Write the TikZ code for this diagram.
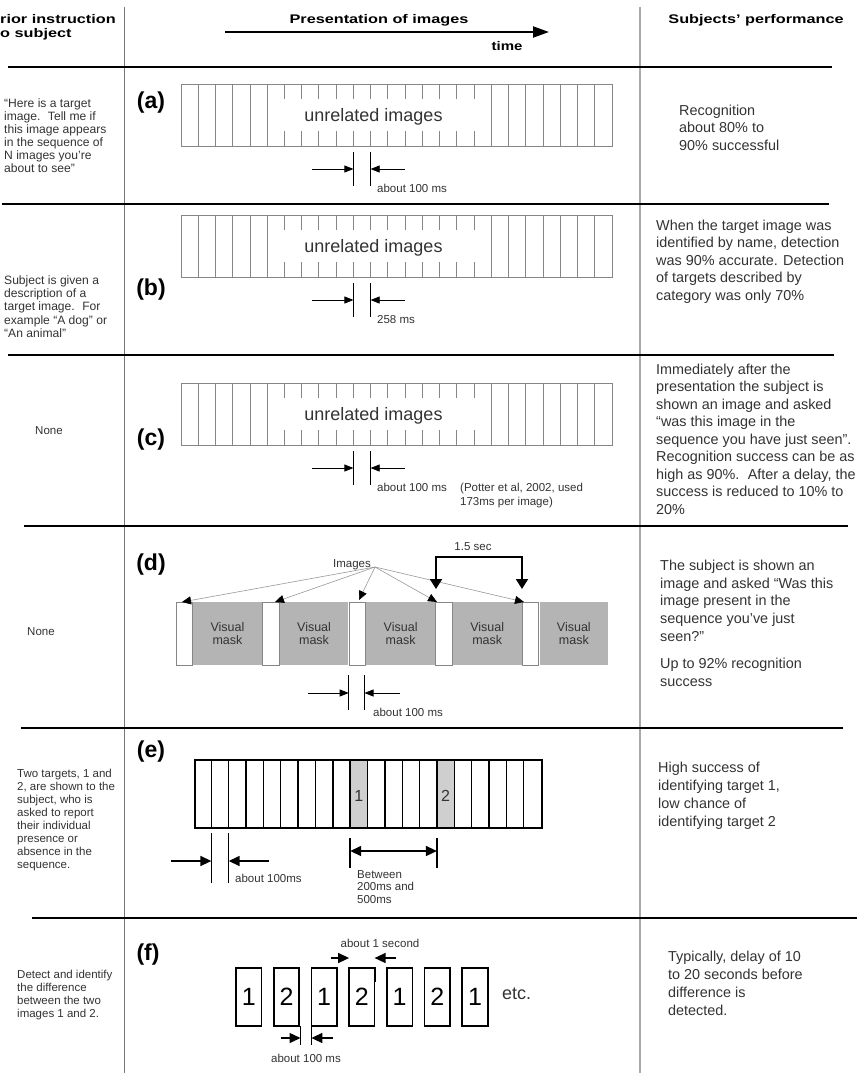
\documentclass[tikz,border=0pt]{standalone}
\usepackage{fontspec}
\setmainfont{Liberation Sans}
\usetikzlibrary{arrows.meta}
\definecolor{txt}{HTML}{333333}
\definecolor{stripgray}{HTML}{868686}
\definecolor{maskgray}{HTML}{B4B4B4}
\definecolor{tgtgray}{HTML}{CFCFCF}
\definecolor{divl}{HTML}{777777}
\definecolor{divr}{HTML}{AAAAAA}
\definecolor{fangray}{HTML}{999999}
\newcommand{\fs}[2]{\fontsize{#1}{#2}\selectfont}
% strip of 25 unrelated images, #1 = top y, #2 = name
\newcommand{\rsvpstrip}[2]{%
  \pgfmathsetmacro{\tA}{#1}\pgfmathsetmacro{\tB}{#1+15}%
  \pgfmathsetmacro{\tC}{#1+47}\pgfmathsetmacro{\tD}{#1+62}%
  \node[draw=stripgray,line width=0.9pt,minimum width=431pt,minimum height=62pt,anchor=north west,inner sep=0pt] (#2) at (181,\tA) {};
  \foreach \i in {1,2,3,4,5,18,19,20,21,22,23,24}{\draw[stripline] ({181+17.24*\i},\tA) -- ({181+17.24*\i},\tD);}
  \foreach \i in {6,...,17}{\draw[stripline] ({181+17.24*\i},\tA) -- ({181+17.24*\i},\tB);
    \draw[stripline] ({181+17.24*\i},\tC) -- ({181+17.24*\i},\tD);}
  \node[bigtxt] (#2txt) at (373.5,{#1+33}) {unrelated images};
}
% dimension marker under a strip, #1 = strip bottom y, #2 = label, #3 = name
\newcommand{\dimmark}[3]{%
  \pgfmathsetmacro{\dA}{#1+6}\pgfmathsetmacro{\dB}{#1+40}\pgfmathsetmacro{\dM}{#1+23}\pgfmathsetmacro{\dL}{#1+46.1}%
  \coordinate (#3la) at (353.4,\dA); \coordinate (#3lb) at (353.4,\dB);
  \coordinate (#3ra) at (370.6,\dA); \coordinate (#3rb) at (370.6,\dB);
  \coordinate (#3ls) at (312,\dM); \coordinate (#3lt) at (353.4,\dM);
  \coordinate (#3rs) at (405,\dM); \coordinate (#3rt) at (370.6,\dM);
  \draw[thinline] (#3la) -- (#3lb);
  \draw[thinline] (#3ra) -- (#3rb);
  \draw[thinarrow] (#3ls) -- (#3lt);
  \draw[thinarrow] (#3rs) -- (#3rt);
  \node[smalltxt,anchor=base west] (#3lab) at (377,\dL) {#2};
}
\begin{document}
\begin{tikzpicture}[x=1pt,y=-1pt,
  sepline/.style={line width=2pt,draw=black},
  lefttext/.style={anchor=north west,align=left,inner sep=0pt,text=txt,font=\fs{11.5}{13}},
  righttext/.style={anchor=north west,align=left,inner sep=0pt,text=txt,font=\fs{14.4}{17.5}},
  hdr/.style={anchor=base,inner sep=0pt,font=\bfseries\fs{12.5}{14}},
  rowlabel/.style={inner sep=0pt,font=\bfseries\fs{23}{25}},
  smalltxt/.style={inner sep=0pt,text=txt,font=\fs{11.5}{13}},
  bigtxt/.style={inner sep=0pt,text=txt,font=\fs{18}{20}},
  stripline/.style={draw=stripgray,line width=0.9pt},
  thinline/.style={draw=black,line width=0.7pt},
  thinarrow/.style={draw=black,line width=0.7pt,-{Triangle[length=9pt,width=7pt]}},
  thickline/.style={draw=black,line width=1.5pt},
  thickarrow/.style={draw=black,line width=1.5pt,-{Triangle[length=11pt,width=10pt]}},
  fanarrow/.style={draw=fangray,line width=0.6pt,-{Triangle[length=9pt,width=8pt,color=black]}},
  whitebar/.style={draw=stripgray,line width=0.8pt,fill=white},
  masktxt/.style={inner sep=0pt,align=center,text=txt,font=\fs{12.5}{13}},
  fbox/.style={draw=black,line width=1.6pt,minimum width=25.5pt,minimum height=58pt,inner sep=0pt,font=\fs{25}{26}},
]
\useasboundingbox (0,0) rectangle (862,1073);
\clip (0,0) rectangle (862,1073);
\fill[white] (0,0) rectangle (862,1073);

% ---------- column dividers ----------
\coordinate (dl1) at (124,7); \coordinate (dl2) at (124,1073);
\coordinate (dr1) at (640,7); \coordinate (dr2) at (640,1073);
\draw[divl,line width=1pt] (dl1) -- (dl2);
\draw[divr,line width=2pt] (dr1) -- (dr2);

% ---------- header ----------
\node[hdr,anchor=base west] (h1) at (0,23.5) {\scalebox{1.3}[1]{rior instruction}};
\node[hdr,anchor=base west] (h2) at (0,37.5) {\scalebox{1.3}[1]{o subject}};
\node[hdr] (hPres) at (379,23.5) {\scalebox{1.3}[1]{Presentation of images}};
\node[hdr] (hTime) at (507,50.5) {\scalebox{1.2}[1]{time}};
\node[hdr] (hPerf) at (756,23.5) {\scalebox{1.3}[1]{Subjects' performance}};
\coordinate (ts) at (225,32); \coordinate (te) at (549,32);
\draw[line width=2pt,-{Triangle[length=16pt,width=11pt]}] (ts) -- (te);

% ---------- row separators ----------
\coordinate (s0a) at (8,67);   \coordinate (s0b) at (832,67);
\coordinate (s1a) at (2,204);  \coordinate (s1b) at (829,204);
\coordinate (s2a) at (8,355);  \coordinate (s2b) at (834,355);
\coordinate (s3a) at (24,526); \coordinate (s3b) at (848,526);
\coordinate (s4a) at (21,728); \coordinate (s4b) at (843,728);
\coordinate (s5a) at (32,918); \coordinate (s5b) at (857,918);
\draw[sepline,line width=2.6pt] (s0a) -- (s0b);
\draw[sepline] (s1a) -- (s1b);
\draw[sepline] (s2a) -- (s2b);
\draw[sepline] (s3a) -- (s3b);
\draw[sepline] (s4a) -- (s4b);
\draw[sepline] (s5a) -- (s5b);

% ---------- left column ----------
\node[lefttext,font=\fs{12.1}{13}] (la) at (4,98) {\strut“Here is a target\\image.\hspace{3pt} Tell me if\\this image appears\\in the sequence of\\N images you’re\\about to see”};
\node[lefttext,font=\fs{12.1}{13.2}] (lb) at (4,275) {\strut Subject is given a\\description of a\\target image.\hspace{3pt} For\\example “A dog” or\\“An animal”};
\node[smalltxt,anchor=base west] (lc) at (35,434.1) {None};
\node[smalltxt,anchor=base west] (ld) at (27,635.1) {None};
\node[lefttext] (le) at (17,768) {\strut Two targets, 1 and\\2, are shown to the\\subject, who is\\asked to report\\their individual\\presence or\\absence in the\\sequence.};
\node[lefttext] (lf) at (17,969) {\strut Detect and identify\\the difference\\between the two\\images 1 and 2.};

% ---------- right column ----------
\node[righttext] (ra) at (679,103) {\strut Recognition\\about 80\% to\\90\% successful};
\node[righttext] (rb) at (656,217.6) {\strut When the target image was\\identified by name, detection\\was 90\% accurate. Detection\\of targets described by\\category was only 70\%};
\node[righttext] (rc) at (656,362) {\strut Immediately after the\\presentation the subject is\\shown an image and asked\\“was this image in the\\sequence you have just seen”.\\Recognition success can be as\\high as 90\%.\hspace{3pt} After a delay, the\\success is reduced to 10\% to\\20\%};
\node[righttext,font=\fs{14.4}{17.7}] (rd1) at (660,558) {\strut The subject is shown an\\image and asked “Was this\\image present in the\\sequence you’ve just\\seen?”};
\node[righttext,font=\fs{14.4}{17.7}] (rd2) at (660,656) {\strut Up to 92\% recognition\\success};
\node[righttext,font=\fs{14.4}{17.8}] (re) at (658,760) {\strut High success of\\identifying target 1,\\low chance of\\identifying target 2};
\node[righttext,font=\fs{14.4}{18}] (rf) at (668,949) {\strut Typically, delay of 10\\to 20 seconds before\\difference is\\detected.};

% ---------- row labels ----------
\node[rowlabel] (pa) at (151,103) {(a)};
\node[rowlabel] (pb) at (151,290) {(b)};
\node[rowlabel] (pc) at (151,440) {(c)};
\node[rowlabel] (pd) at (151,565) {(d)};
\node[rowlabel] (pe) at (151,752) {(e)};
\node[rowlabel] (pf) at (148,955) {(f)};

% ---------- rows a, b, c ----------
\rsvpstrip{84}{stripA}
\dimmark{146}{about 100 ms}{dA}
\rsvpstrip{215}{stripB}
\dimmark{277}{258 ms}{dB}
\rsvpstrip{383}{stripC}
\dimmark{445}{about 100 ms}{dC}
\node[smalltxt,anchor=north west,align=left,font=\fs{11.5}{14.5}] (potter) at (460,481) {\strut(Potter et al, 2002, used\\173ms per image)};

% ---------- row d ----------
\foreach \k in {0,...,4}{
  \pgfmathsetmacro{\xo}{175.5+86.6*\k}
  \node[whitebar,minimum width=16.5pt,minimum height=63pt,anchor=north west,inner sep=0pt] (dw\k) at (\xo,602) {};
  \node[fill=maskgray,minimum width=68.5pt,minimum height=63pt,anchor=north west,inner sep=0pt] (dm\k) at ({\xo+17.5},602) {};
  \node[masktxt] (dmt\k) at (dm\k.center) {Visual\\mask};
}
\node[smalltxt,anchor=base] (imgs) at (352,567) {Images};
\coordinate (fan) at (375,567);
\coordinate (ft0) at (182,602);
\coordinate (ft1) at (275,602);
\coordinate (ft2) at (359,600);
\coordinate (ft3) at (437,602);
\coordinate (ft4) at (524,602);
\foreach \k in {0,...,4}{\draw[fanarrow] (fan) -- (ft\k);}
\node[smalltxt,anchor=base] (sec) at (473,550) {1.5 sec};
\coordinate (bk1) at (436,589); \coordinate (bk2) at (436,557);
\coordinate (bk3) at (522,557); \coordinate (bk4) at (522,589);
\draw[line width=1.8pt,{Triangle[length=10pt,width=12pt]}-{Triangle[length=10pt,width=12pt]}] (bk1) -- (bk2) -- (bk3) -- (bk4);
\coordinate (ddla) at (348.7,675); \coordinate (ddlb) at (348.7,710);
\coordinate (ddra) at (364.5,675); \coordinate (ddrb) at (364.5,710);
\coordinate (ddls) at (308,693); \coordinate (ddlt) at (348.7,693);
\coordinate (ddrs) at (400,693); \coordinate (ddrt) at (364.5,693);
\draw[thinline] (ddla) -- (ddlb);
\draw[thinline] (ddra) -- (ddrb);
\draw[thinarrow] (ddls) -- (ddlt);
\draw[thinarrow] (ddrs) -- (ddrt);
\node[smalltxt,anchor=base west] (ddlab) at (373,716) {about 100 ms};

% ---------- row e ----------
\fill[tgtgray] ({194+17.35*9},759) rectangle ({194+17.35*10},827);
\fill[tgtgray] ({194+17.35*14},759) rectangle ({194+17.35*15},827);
\foreach \i in {1,...,19}{\draw[line width=1.4pt] ({194+17.35*\i},759) -- ({194+17.35*\i},827);}
\node[draw=black,line width=1.5pt,minimum width=347pt,minimum height=68pt,anchor=north west,inner sep=0pt] (stripE) at (194,759) {};
\node[inner sep=0pt,text=txt,font=\fs{16}{18}] (t1) at ({194+17.35*9.5},796) {1};
\node[inner sep=0pt,text=txt,font=\fs{16}{18}] (t2) at ({194+17.35*14.5},796) {2};
\coordinate (ela) at (211.35,833); \coordinate (elb) at (211.35,883);
\coordinate (era) at (228.7,833);  \coordinate (erb) at (228.7,883);
\coordinate (els) at (171,861); \coordinate (elt) at (211.35,861);
\coordinate (ers) at (269,861); \coordinate (ert) at (228.7,861);
\draw[thickline] (ela) -- (elb);
\draw[thickline] (era) -- (erb);
\draw[thickarrow] (els) -- (elt);
\draw[thickarrow] (ers) -- (ert);
\node[smalltxt,anchor=base west] (elab) at (235,882) {about 100ms};
\coordinate (eba) at (350.2,838); \coordinate (ebb) at (350.2,868);
\coordinate (eca) at (436.9,838); \coordinate (ecb) at (436.9,868);
\coordinate (ebm) at (350.2,851); \coordinate (ecm) at (436.9,851);
\draw[thickline] (eba) -- (ebb);
\draw[thickline] (eca) -- (ecb);
\draw[thickline,{Triangle[length=11pt,width=10pt]}-{Triangle[length=11pt,width=10pt]}] (ebm) -- (ecm);
\node[smalltxt,anchor=north west,align=left,font=\fs{11.5}{12.5}] (btw) at (357,869.4) {\strut Between\\200ms and\\500ms};

% ---------- row f ----------
\foreach \k/\n in {0/1,1/2,2/1,3/2,4/1,5/2,6/1}{
  \node[fbox] (fb\k) at ({236+37.7*\k+12.75},997) {\n};
}
\node[inner sep=0pt,anchor=west,text=txt,font=\fs{18}{20}] (etc) at (502,994) {etc.};
\coordinate (fta) at (fb3.north west); \coordinate (ftb) at ([yshift=-15pt]fb3.north west);
\coordinate (fua) at (fb3.north east); \coordinate (fub) at ([yshift=-15pt]fb3.north east);
\draw[thickline] (fta) -- (ftb);
\draw[thickline] (fua) -- (fub);
\coordinate (fls) at (331,958); \coordinate (flt) at (349.1,958);
\coordinate (frs) at (396,958); \coordinate (frt) at (374.6,958);
\draw[thickarrow] (fls) -- (flt);
\draw[thickarrow] (frs) -- (frt);
\node[smalltxt,anchor=base] (fsec) at (380,947) {about 1 second};
\coordinate (gla) at (300.5,1026); \coordinate (glb) at (300.5,1045);
\coordinate (gra) at (311.4,1026); \coordinate (grb) at (311.4,1045);
\draw[thickline] (gla) -- (glb);
\draw[thickline] (gra) -- (grb);
\coordinate (gls) at (281,1038); \coordinate (glt) at (300.5,1038);
\coordinate (grs) at (333,1038); \coordinate (grt) at (311.4,1038);
\draw[thickarrow] (gls) -- (glt);
\draw[thickarrow] (grs) -- (grt);
\node[smalltxt,anchor=base] (gms) at (306,1062) {about 100 ms};
\end{tikzpicture}
\end{document}
